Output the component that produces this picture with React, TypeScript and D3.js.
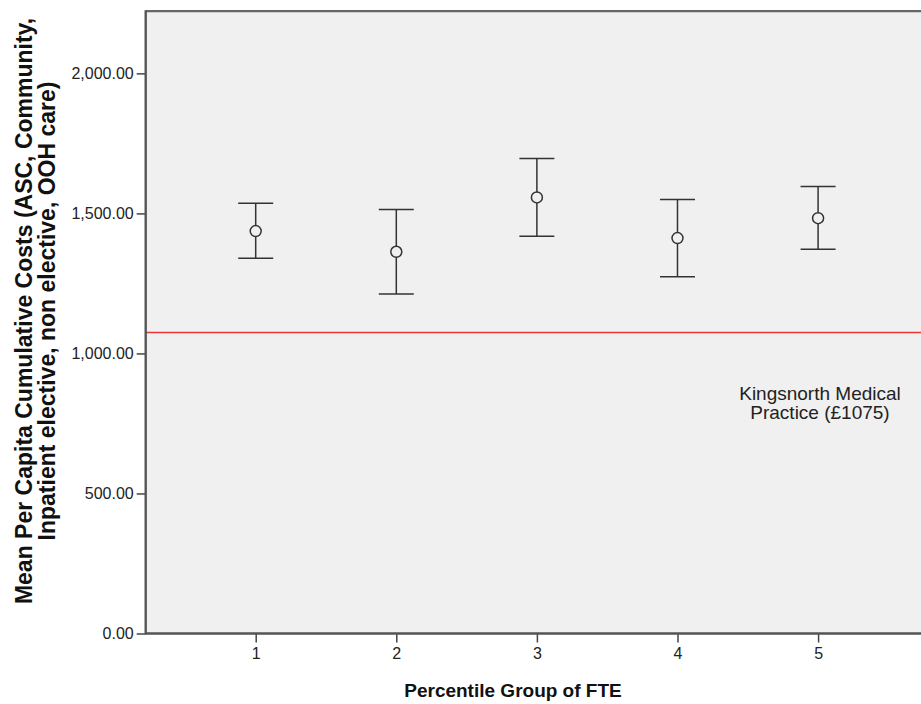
import React, { useRef, useEffect } from 'react';
import * as d3 from 'd3';

const groups = [1, 2, 3, 4, 5];
const means = [1437, 1363, 1557, 1412, 1483];
const upper = [1536, 1514, 1696, 1550, 1596];
const lower = [1340, 1212, 1418, 1274, 1372];
const yTicks = [0, 500, 1000, 1500, 2000];
const practiceValue = 1075;
const practiceLabel = ['Kingsnorth Medical', 'Practice (£1075)'];
const yTitle = ['Mean Per Capita Cumulative Costs (ASC, Community,', 'Inpatient elective, non elective, OOH care)'];
const xTitle = 'Percentile Group of FTE';

const App = () => {
  const ref = useRef<SVGSVGElement>(null);

  useEffect(() => {
    const svg = d3.select(ref.current);
    const width = 921;
    const font = 'Liberation Sans, Arial, sans-serif';

    svg.selectAll('*').remove();

    const x = d3.scaleLinear().domain([0.2176, 5.732]).range([145.7, 921]);
    const y = d3.scaleLinear().domain([0, 2222]).range([633.5, 11.2]);

    // plot background
    svg.append('rect')
      .attr('x', x.range()[0])
      .attr('y', y(2222))
      .attr('width', width - x.range()[0])
      .attr('height', y(0) - y(2222))
      .attr('fill', '#f0f0f0');

    // top border
    svg.append('line')
      .attr('x1', x.range()[0]).attr('x2', width)
      .attr('y1', y(2222)).attr('y2', y(2222))
      .attr('stroke', '#666').attr('stroke-width', 2.2);

    // reference line
    svg.append('line')
      .attr('x1', x.range()[0]).attr('x2', width)
      .attr('y1', y(practiceValue)).attr('y2', y(practiceValue))
      .attr('stroke', '#ec3434').attr('stroke-width', 1.6);

    const yAxis = g => g
      .attr('transform', `translate(${x.range()[0]},0)`)
      .call(d3.axisLeft(y).tickValues(yTicks).tickSize(9).tickPadding(3).tickFormat(d3.format(',.2f')))
      .call(g => g.select('.domain').remove())
      .call(g => g.selectAll('line').attr('stroke', '#444').attr('stroke-width', 1.5))
      .call(g => g.selectAll('text').attr('fill', '#222').attr('font-size', 16).attr('font-family', font));

    const xAxis = g => g
      .attr('transform', `translate(0,${y(0)})`)
      .call(d3.axisBottom(x).tickValues(groups).tickSize(9).tickPadding(5).tickFormat(d3.format('d')))
      .call(g => g.select('.domain').remove())
      .call(g => g.selectAll('line').attr('stroke', '#444').attr('stroke-width', 1.5))
      .call(g => g.selectAll('text').attr('fill', '#222').attr('font-size', 16).attr('font-family', font));

    svg.append('g').call(yAxis);
    svg.append('g').call(xAxis);

    // axis lines
    svg.append('line')
      .attr('x1', x.range()[0]).attr('x2', x.range()[0])
      .attr('y1', y(2222) - 1).attr('y2', y(0) + 1)
      .attr('stroke', '#555').attr('stroke-width', 2.4);
    svg.append('line')
      .attr('x1', x.range()[0]).attr('x2', width)
      .attr('y1', y(0)).attr('y2', y(0))
      .attr('stroke', '#555').attr('stroke-width', 2.4);

    // error bars
    const capHalf = 17.5;
    const bars = svg.append('g').attr('stroke', '#333').attr('stroke-width', 1.5).attr('fill', 'none');
    groups.forEach((k, i) => {
      const cx = x(k);
      bars.append('line').attr('x1', cx).attr('x2', cx).attr('y1', y(upper[i])).attr('y2', y(lower[i]));
      bars.append('line').attr('x1', cx - capHalf).attr('x2', cx + capHalf).attr('y1', y(upper[i])).attr('y2', y(upper[i]));
      bars.append('line').attr('x1', cx - capHalf).attr('x2', cx + capHalf).attr('y1', y(lower[i])).attr('y2', y(lower[i]));
      bars.append('circle').attr('cx', cx).attr('cy', y(means[i])).attr('r', 5.5).attr('fill', '#f0f0f0');
    });

    // annotation
    const note = svg.append('text')
      .attr('x', 820)
      .attr('text-anchor', 'middle')
      .attr('font-family', font)
      .attr('font-size', 19)
      .attr('fill', '#222');
    practiceLabel.forEach((t, i) => {
      note.append('tspan').attr('x', 820).attr('y', 399.5 + i * 19).text(t);
    });

    // axis titles
    svg.append('text')
      .attr('x', 513)
      .attr('y', 697)
      .attr('text-anchor', 'middle')
      .attr('font-family', font)
      .attr('font-weight', 'bold')
      .attr('font-size', 19)
      .attr('fill', '#111')
      .text(xTitle);

    const yt = svg.append('text')
      .attr('transform', `translate(0,311) rotate(-90)`)
      .attr('text-anchor', 'middle')
      .attr('font-family', font)
      .attr('font-weight', 'bold')
      .attr('font-size', 23)
      .attr('fill', '#111');
    yTitle.forEach((t, i) => {
      yt.append('tspan').attr('x', 0).attr('y', 32 + i * 23).text(t);
    });
  }, []);

  return (
    <svg ref={ref} width={921} height={704} style={{ position: 'absolute', left: 0, top: 0, background: '#fff' }}></svg>
  );
};

export default App;
